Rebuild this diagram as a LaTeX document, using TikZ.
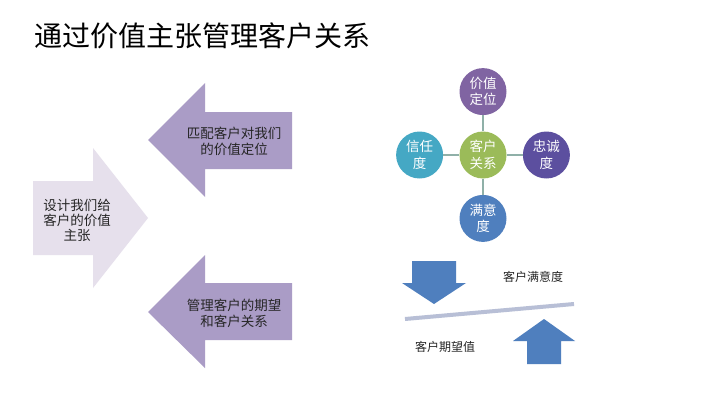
\documentclass[tikz,border=0pt]{standalone}
\usepackage{fontspec}
\newfontfamily\cjk{Noto Sans CJK SC}
\usetikzlibrary{positioning}
\definecolor{lightlav}{HTML}{E6E0EC}
\definecolor{midlav}{HTML}{AA9CC6}
\definecolor{cgreen}{HTML}{9BBB59}
\definecolor{cpurple}{HTML}{8064A2}
\definecolor{cindigo}{HTML}{5C4F9F}
\definecolor{cteal}{HTML}{45A8C4}
\definecolor{cblue}{HTML}{4F7FBE}
\definecolor{spokegray}{HTML}{8FB0A8}
\definecolor{balgray}{HTML}{B8BFD6}
\tikzstyle{bigarrow} = [fill=lightlav]
\tikzstyle{sidearrow} = [fill=midlav]
\tikzstyle{blockarrow} = [fill=cblue]
\tikzstyle{arrowtext} = [font=\cjk\fontsize{13.5}{16}\selectfont, align=center, text=black!85, inner sep=0pt]
\tikzstyle{bubble} = [circle, minimum size=47pt, inner sep=0pt, text=white, align=center, font=\cjk\fontsize{13.5}{16.5}\selectfont]
\tikzstyle{spoke} = [draw=spokegray, line width=1.2pt]
\tikzstyle{smalltext} = [font=\cjk\fontsize{12}{14}\selectfont, text=black!85, inner sep=0pt]

\begin{document}
\begin{tikzpicture}[x=1pt, y=-1pt]
\useasboundingbox[fill=white] (0,0) rectangle (720,404);
% title
\node[font=\cjk\fontsize{28}{30}\selectfont, anchor=west, inner sep=0pt] (title) at (34,36) {通过价值主张管理客户关系};

% left arrows
\fill[bigarrow] (33,181) -- (93,181) -- (93,148) -- (148,218) -- (93,288) -- (93,255) -- (33,255) -- cycle;
\fill[sidearrow] (292,112) -- (205,112) -- (205,83) -- (148,140) -- (205,197) -- (205,169) -- (292,169) -- cycle;
\fill[sidearrow] (292,283) -- (205,283) -- (205,255) -- (148,312) -- (205,368) -- (205,340) -- (292,340) -- cycle;
\node[arrowtext, font=\cjk\fontsize{13.5}{15}\selectfont] (sheji) at (77,220) {设计我们给\\客户的价值\\主张};
\node[arrowtext] (pipei) at (234,141) {匹配客户对我们\\的价值定位};
\node[arrowtext] (guanli) at (234,313) {管理客户的期望\\和客户关系};

% relationship circles
\node[bubble, fill=cgreen] (kehu) at (483,155) {客户\\关系};
\node[bubble, fill=cpurple, above=16pt of kehu] (jiazhi) {价值\\定位};
\node[bubble, fill=cindigo, right=16pt of kehu] (zhongcheng) {忠诚\\度};
\node[bubble, fill=cteal, left=16pt of kehu] (xinren) {信任\\度};
\node[bubble, fill=cblue, below=16pt of kehu] (manyidu) {满意\\度};
\draw[spoke] (kehu) -- (jiazhi);
\draw[spoke] (kehu) -- (zhongcheng);
\draw[spoke] (kehu) -- (xinren);
\draw[spoke] (kehu) -- (manyidu);

% balance
\fill[blockarrow] (412,261) -- (456,261) -- (456,283) -- (466,283) -- (434,304) -- (402,283) -- (412,283) -- cycle;
\fill[blockarrow] (527,364) -- (561,364) -- (561,341) -- (575,341) -- (544,319) -- (513,341) -- (527,341) -- cycle;
\coordinate (balL) at (405,319);
\coordinate (balR) at (574,304);
\draw[balgray, line width=4pt] (balL) -- (balR);
\node[smalltext] (manyi) at (533,277) {客户满意度};
\node[smalltext] (qiwang) at (445,347) {客户期望值};
\end{tikzpicture}
\end{document}
